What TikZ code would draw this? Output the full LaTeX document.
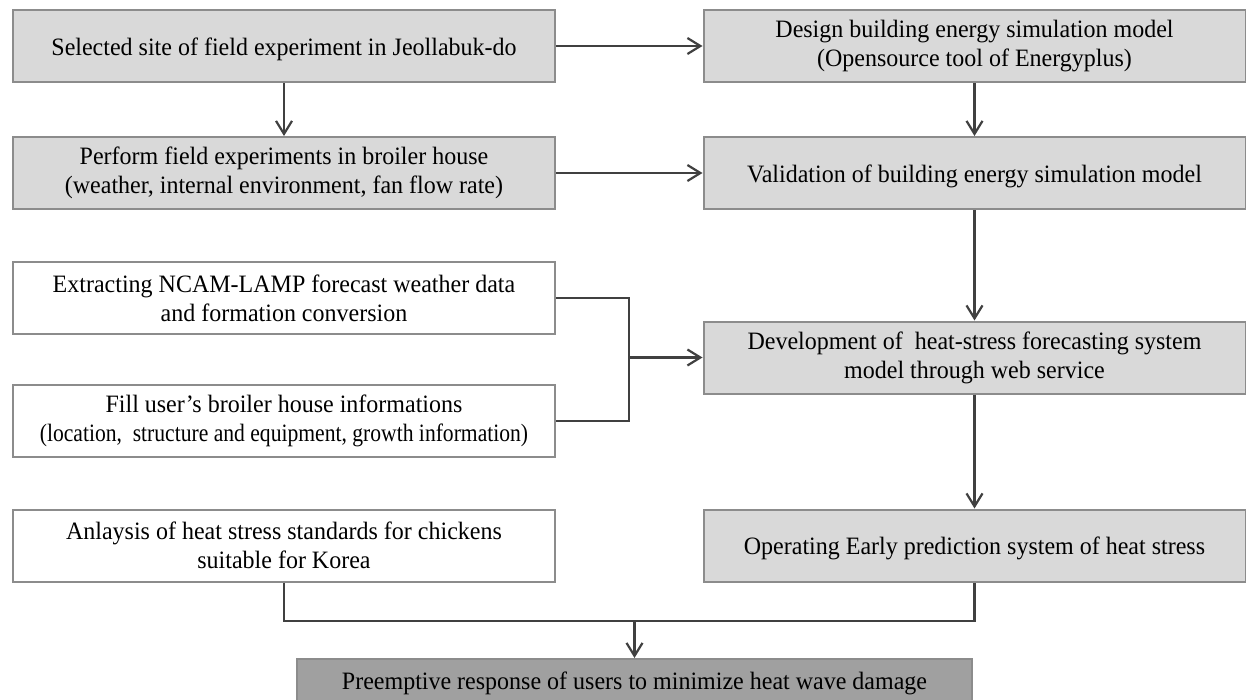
\documentclass[tikz,border=0pt]{standalone}
\usepackage{fontspec}
\setmainfont[FakeStretch=0.96]{Liberation Serif}
\usetikzlibrary{arrows.meta}
\definecolor{boxgray}{HTML}{D9D9D9}
\definecolor{darkbox}{HTML}{A0A0A0}
\definecolor{edgegray}{HTML}{8C8C8C}
\definecolor{linkgray}{HTML}{404040}
\begin{document}
\begin{tikzpicture}[x=1pt,y=-1pt,
  box/.style={draw=edgegray, line width=2pt, minimum width=542pt,
    minimum height=72pt, inner sep=0pt, align=center,
    font=\fontsize{25}{29}\selectfont,
    execute at begin node={\rule{0pt}{24pt}}},
  shaded/.style={box, fill=boxgray},
  plain/.style={box, fill=white},
  link/.style={draw=linkgray, line width=2.2pt},
  arrow/.style={link, -{Straight Barb[length=13pt,width=16pt]}}]
\useasboundingbox (0,0) rectangle (1246,699);

% left column
\node[shaded] (site)  at (284,46)    {Selected site of field experiment in Jeollabuk-do};
\node[shaded] (field) at (284,173)   {Perform field experiments in broiler house\\(weather, internal environment, fan flow rate)};
\node[plain]  (ncam)  at (284,298)   {Extracting NCAM-LAMP forecast weather data\\and formation conversion};
\node[plain]  (user)  at (284,421)   {Fill user’s broiler house informations\\\scalebox{0.9}[1]{(location,~ structure and equipment, growth information)}};
\node[plain]  (std)   at (284,545.5) {Anlaysis of heat stress standards for chickens\\suitable for Korea};

% right column
\node[shaded] (design) at (974.5,46)    {Design building energy simulation model\\(Opensource tool of Energyplus)};
\node[shaded] (valid)  at (974.5,173)   {Validation of building energy simulation model};
\node[shaded] (web)    at (974.5,357.5) {Development of~ heat-stress forecasting system\\model through web service};
\node[shaded] (oper)   at (974.5,545.5) {Operating Early prediction system of heat stress};

% final outcome
\node[draw=edgegray, fill=darkbox, line width=2pt, minimum width=675pt,
  inner sep=0pt, text height=30pt, text depth=42pt, anchor=north,
  font=\fontsize{25}{29}\selectfont] (resp) at (634.5,658)
  {Preemptive response of users to minimize heat wave damage};

% junction points
\coordinate (fork)  at (629,357.5);
\coordinate (merge) at (634.5,621);

% connectors
\draw[arrow] (site.east) -- (design.west);
\draw[arrow] (site.south) -- (field.north);
\draw[arrow] (field.east) -- (valid.west);
\draw[arrow] (design.south) -- (valid.north);
\draw[arrow] (valid.south) -- (web.north);
\draw[arrow] (web.south) -- (oper.north);
\draw[link] (ncam.east) -| (fork) |- (user.east);
\draw[arrow] (fork) -- (web.west);
\draw[link] (std.south) |- (merge) -| (oper.south);
\draw[arrow] (merge) -- (resp.north);
\end{tikzpicture}
\end{document}
